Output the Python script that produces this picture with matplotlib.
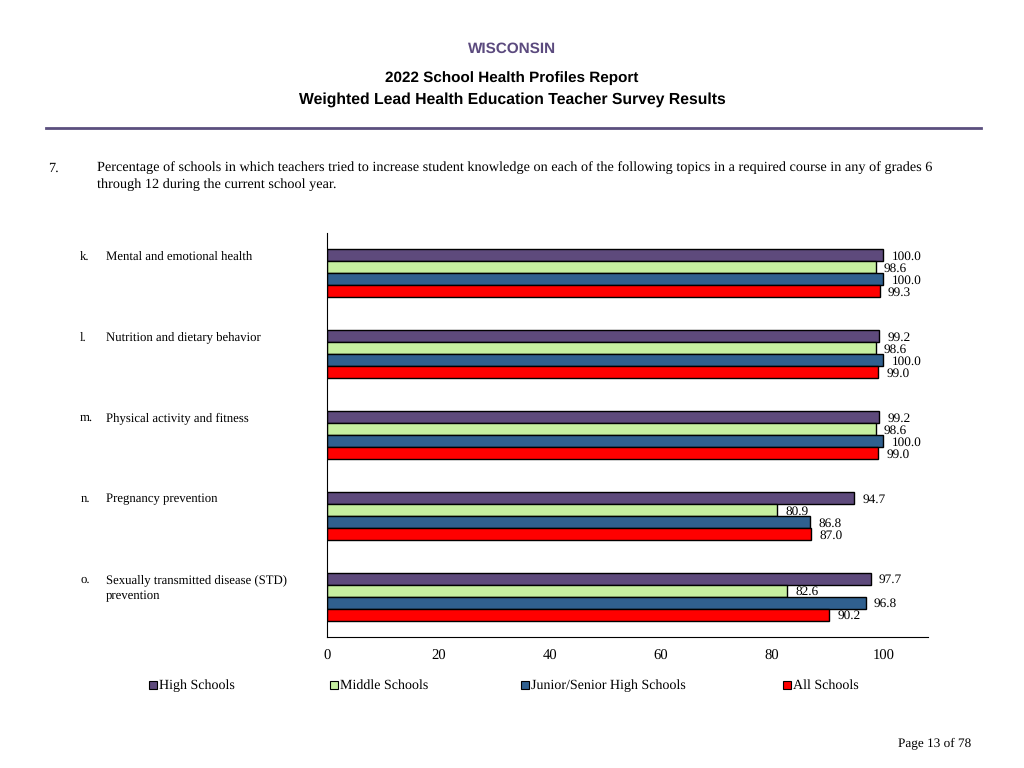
import matplotlib
matplotlib.use('Agg')
import matplotlib.pyplot as plt
import numpy as np

plt.rcParams['text.hinting'] = 'no_hinting'

# data
topics = ['k.', 'l.', 'm.', 'n.', 'o.']
topic_text = ['Mental and emotional health',
              'Nutrition and dietary behavior',
              'Physical activity and fitness',
              'Pregnancy prevention',
              'Sexually transmitted disease (STD)\nprevention']
series = ['High Schools', 'Middle Schools', 'Junior/Senior High Schools', 'All Schools']
high = [100.0, 99.2, 99.2, 94.7, 97.7]
middle = [98.6, 98.6, 98.6, 80.9, 82.6]
junior = [100.0, 100.0, 100.0, 86.8, 96.8]
allsch = [99.3, 99.0, 99.0, 87.0, 90.2]
colors = ['#5E4A7C', '#C6EFA0', '#30608F', '#FF0000']

serif = 'Liberation Serif'
sans = 'Liberation Sans'

fig = plt.figure(figsize=(10.24, 7.68), dpi=100)

# header
fig.text(0.5, 1 - 49 / 768, 'WISCONSIN', ha='center', va='center',
         fontsize=11, fontweight='bold', color='#5B4A7E', family=sans)
fig.text(0.5, 1 - 78 / 768, '2022 School Health Profiles Report', ha='center',
         va='center', fontsize=11, fontweight='bold', family=sans)
fig.text(0.5, 1 - 100 / 768, 'Weighted Lead Health Education Teacher Survey Results',
         ha='center', va='center', fontsize=11.3, fontweight='bold', family=sans)
fig.add_artist(plt.Line2D([46 / 1024, 981 / 1024], [1 - 128 / 768] * 2,
                          color='#5B4F7E', lw=2))

fig.text(48 / 1024, 1 - 168 / 768, '7.', ha='left', va='center', fontsize=10.3,
         family=serif)
fig.text(97 / 1024, 1 - 168 / 768,
         'Percentage of schools in which teachers tried to increase student knowledge '
         'on each of the following topics in a required course in any of grades 6',
         ha='left', va='center', fontsize=10.3, family=serif)
fig.text(97 / 1024, 1 - 185 / 768, 'through 12 during the current school year.',
         ha='left', va='center', fontsize=10.3, family=serif)

ax = fig.add_axes([327 / 1024, 1 - 637 / 768, 601 / 1024, 404 / 768])
h = 0.148
px = 557 / 100.0   # pixels per unit on x
py = 80.8          # pixels per group on y
vals = [high, middle, junior, allsch]
y = np.arange(len(topics))
for i, (v, c) in enumerate(zip(vals, colors)):
    pos = y - 1.5 * h + i * h
    ax.barh(pos, v, height=h, color=c, edgecolor='black', linewidth=1.0)
    for p, val in zip(pos, v):
        ax.text(val + 1.5, p + 1.5 / py, '%.1f' % val, ha='left', va='center',
                fontsize=9.5, family=serif)

ax.set_ylim(len(topics) - 0.5, -0.5)
ax.set_xlim(0, 108)
ax.set_xticks([0, 20, 40, 60, 80, 100])
ax.set_yticks([])
for lab in ax.get_xticklabels():
    lab.set_family(serif)
    lab.set_fontsize(10.5)
ax.tick_params(axis='x', length=0, pad=9)
ax.spines['top'].set_visible(False)
ax.spines['right'].set_visible(False)

# category labels
for i, (t, txt) in enumerate(zip(topics, topic_text)):
    yy = i - 1.5 * h + 1 / py
    ax.text(-247 / px, yy, t, ha='left', va='center', fontsize=9.2,
            family=serif, clip_on=False)
    for j, line in enumerate(txt.split('\n')):
        ax.text(-221 / px, yy + j * 16 / py, line, ha='left', va='center',
                fontsize=9.2, family=serif, clip_on=False)

# legend
leg_x = [149, 330, 521, 783]
for lx, s, c in zip(leg_x, series, colors):
    fig.patches.append(plt.Rectangle((lx / 1024, 1 - 689 / 768), 8 / 1024, 8 / 768,
                                     facecolor=c, edgecolor='black', lw=0.8,
                                     transform=fig.transFigure))
    fig.text((lx + 10) / 1024, 1 - 689 / 768, s, ha='left', va='baseline',
             fontsize=10.1, family=serif)

fig.text(971 / 1024, 1 - 743 / 768, 'Page 13 of 78', ha='right', va='center',
         fontsize=9.5, family=serif)

fig.savefig('out.png', dpi=100)
